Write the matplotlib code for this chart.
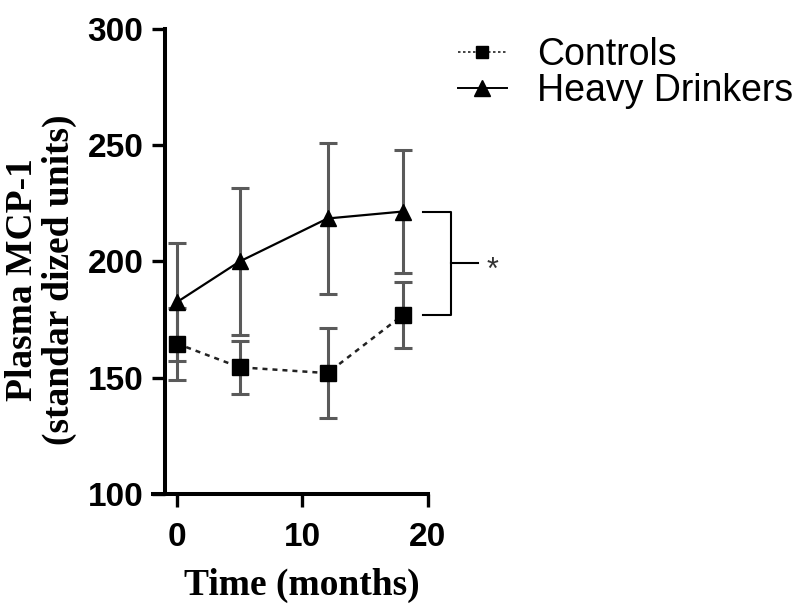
import numpy as np
import matplotlib
matplotlib.use('Agg')
import matplotlib.pyplot as plt
from matplotlib import font_manager
from matplotlib.lines import Line2D

# data
months = [0, 5, 12, 18]
controls = [164.7, 154.5, 152, 177]
controls_err = [15.5, 11.5, 19.5, 14]
heavy = [182.5, 200, 218.5, 221.5]
heavy_err = [25.5, 31.5, 32.5, 26.5]
yticks = [100, 150, 200, 250, 300]
xticks = [0, 10, 20]

names = [f.name for f in font_manager.fontManager.ttflist]
tickfont = 'Liberation Sans Narrow' if 'Liberation Sans Narrow' in names else 'Liberation Sans'

fig = plt.figure(figsize=(8, 6.11), dpi=100)
ax = fig.add_axes([153/800, 1-494/611, (428-153)/800, (494-29)/611])

# error bars (grey) under the lines
ax.errorbar(months, heavy, yerr=heavy_err, fmt='none', ecolor='#5a5a5a',
            elinewidth=2.2, capsize=6.5, capthick=2.2, zorder=1)
ax.errorbar(months, controls, yerr=controls_err, fmt='none', ecolor='#5a5a5a',
            elinewidth=2.2, capsize=6.5, capthick=2.2, zorder=1)

ax.plot(months, controls, color='#222222', linestyle=(0, (2, 2)), linewidth=1.8,
        marker='s', markersize=11, markerfacecolor='k', markeredgecolor='k', zorder=3)
ax.plot(months, heavy, color='k', linestyle='-', linewidth=1.6,
        marker='^', markersize=12, markerfacecolor='k', markeredgecolor='k', zorder=3)

ax.set_xlim(-1.9, 20)
ax.set_ylim(100, 300)
ax.set_xticks(xticks)
ax.set_yticks(yticks)
ax.spines['top'].set_visible(False)
ax.spines['right'].set_visible(False)
ax.spines['left'].set_position(('data', -0.95))
for s in ['left', 'bottom']:
    ax.spines[s].set_linewidth(2.9)
ax.tick_params(axis='both', length=9.5, width=2.4, direction='out')
ax.tick_params(axis='y', pad=6)
ax.tick_params(axis='x', pad=11)
for lab in ax.get_xticklabels() + ax.get_yticklabels():
    lab.set_fontfamily(tickfont)
    lab.set_fontweight('bold')
    lab.set_fontsize(24)

# significance bracket between last points
bx0 = months[-1] + 1.6
bx1 = months[-1] + 3.8
ax.plot([bx0, bx1, bx1, bx0], [heavy[-1], heavy[-1], controls[-1], controls[-1]],
        color='k', linewidth=1.5, clip_on=False)
mid = (heavy[-1] + controls[-1]) / 2
ax.plot([bx1, bx1 + 2.2], [mid, mid], color='k', linewidth=1.5, clip_on=False)
ax.text(bx1 + 2.9, mid - 3.5, '*', fontsize=22, color='#333333', family='Liberation Sans',
        ha='left', va='center', clip_on=False)

# legend
handles = [Line2D([], [], color='#222222', linestyle=(0, (1.5, 1.5)), linewidth=1.2,
                  marker='s', markersize=9, markerfacecolor='k', markeredgecolor='k'),
           Line2D([], [], color='k', linestyle='-', linewidth=1.4,
                  marker='^', markersize=11, markerfacecolor='k', markeredgecolor='k')]
fig.legend(handles, ['Controls', 'Heavy Drinkers'], loc='upper left',
           bbox_to_anchor=(458/800, 1-37/611), frameon=False,
           prop={'family': 'Liberation Sans', 'size': 27}, handlelength=1.3,
           handletextpad=0.8, labelspacing=0.0, borderaxespad=0, borderpad=0)

fig.text(302/800, 1-595/611, 'Time (months)', family='Liberation Serif',
         fontweight='bold', fontsize=27, ha='center', va='baseline')
fig.text(41/800, 1-280/611, 'Plasma MCP-1\n(standar dized units)', family='Liberation Serif',
         fontweight='bold', fontsize=27, rotation=90, ha='center', va='center',
         multialignment='center', linespacing=1.1)

fig.savefig('out.png', dpi=100)
